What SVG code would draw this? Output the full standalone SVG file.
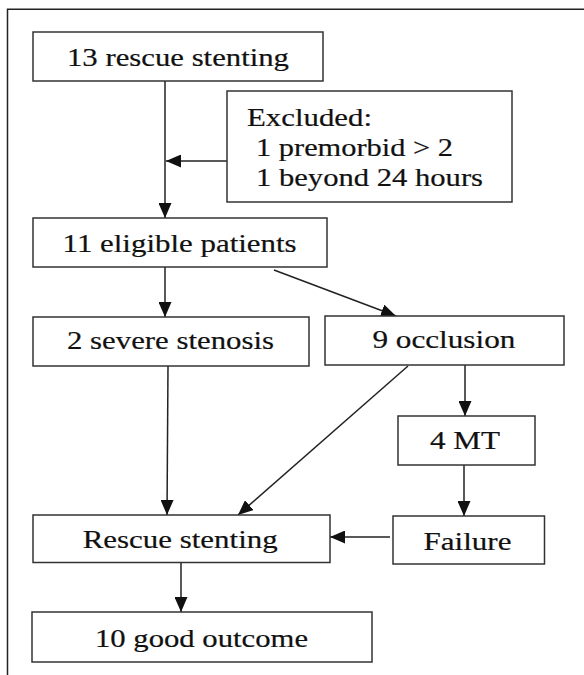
<svg xmlns="http://www.w3.org/2000/svg" width="584" height="675" viewBox="0 0 584 675">
<style>
.box{fill:#fff;stroke:#333;stroke-width:1.5}
.t{font-family:'Liberation Serif','Times New Roman',serif;font-size:26px;fill:#111;stroke:#111;stroke-width:0.2}
.c{stroke:#222;stroke-width:1.5;fill:none}
</style>
<defs>
<marker id="ah" markerUnits="userSpaceOnUse" markerWidth="15" markerHeight="13" refX="15" refY="6.5" orient="auto">
<path d="M0,0 L15,6.5 L0,13 z" fill="#111"/>
</marker>
</defs>
<rect width="584" height="675" fill="#fff"/>
<path d="M7.5,675 V9.3 H584" fill="none" stroke="#222" stroke-width="1.5"/>
<g id="connectors">
<line class="c" x1="165" y1="81" x2="165" y2="218" marker-end="url(#ah)"/>
<line class="c" x1="227" y1="161" x2="166" y2="161" marker-end="url(#ah)"/>
<line class="c" x1="165" y1="267" x2="165" y2="317" marker-end="url(#ah)"/>
<line class="c" x1="274" y1="270" x2="396" y2="316" marker-end="url(#ah)"/>
<line class="c" x1="465" y1="365" x2="465" y2="416" marker-end="url(#ah)"/>
<line class="c" x1="408" y1="366" x2="238" y2="515" marker-end="url(#ah)"/>
<line class="c" x1="168" y1="366" x2="167" y2="515" marker-end="url(#ah)"/>
<line class="c" x1="464" y1="465" x2="464" y2="516" marker-end="url(#ah)"/>
<line class="c" x1="390" y1="537" x2="330" y2="537" marker-end="url(#ah)"/>
<line class="c" x1="181" y1="562.5" x2="181" y2="612" marker-end="url(#ah)"/>
</g>
<g id="n13"><rect class="box" x="33" y="32" width="290" height="49"/><text class="t" x="67" y="66" textLength="222" lengthAdjust="spacingAndGlyphs">13 rescue stenting</text></g>
<g id="excluded"><rect class="box" x="227" y="91" width="285" height="111"/>
<text class="t" x="247" y="125.5" textLength="125" lengthAdjust="spacingAndGlyphs">Excluded:</text>
<text class="t" x="256" y="155.5" textLength="197" lengthAdjust="spacingAndGlyphs">1 premorbid &gt; 2</text>
<text class="t" x="256" y="185.5" textLength="227" lengthAdjust="spacingAndGlyphs">1 beyond 24 hours</text></g>
<g id="n11"><rect class="box" x="33" y="218" width="294" height="49"/><text class="t" x="62.6" y="252" textLength="234" lengthAdjust="spacingAndGlyphs">11 eligible patients</text></g>
<g id="n2"><rect class="box" x="33" y="317" width="276" height="49"/><text class="t" x="67" y="349" textLength="207" lengthAdjust="spacingAndGlyphs">2 severe stenosis</text></g>
<g id="n9"><rect class="box" x="325" y="316" width="239" height="49"/><text class="t" x="372.4" y="348" textLength="143" lengthAdjust="spacingAndGlyphs">9 occlusion</text></g>
<g id="n4mt"><rect class="box" x="398" y="416" width="137" height="49"/><text class="t" x="430" y="449" textLength="70" lengthAdjust="spacingAndGlyphs">4 MT</text></g>
<g id="failure"><rect class="box" x="393" y="516" width="151.5" height="48"/><text class="t" x="423.5" y="550" textLength="88" lengthAdjust="spacingAndGlyphs">Failure</text></g>
<g id="rescue"><rect class="box" x="33" y="515" width="297" height="47.5"/><text class="t" x="82.7" y="548" textLength="195" lengthAdjust="spacingAndGlyphs">Rescue stenting</text></g>
<g id="n10"><rect class="box" x="32" y="612" width="340" height="50"/><text class="t" x="95" y="647" textLength="213" lengthAdjust="spacingAndGlyphs">10 good outcome</text></g>
</svg>
